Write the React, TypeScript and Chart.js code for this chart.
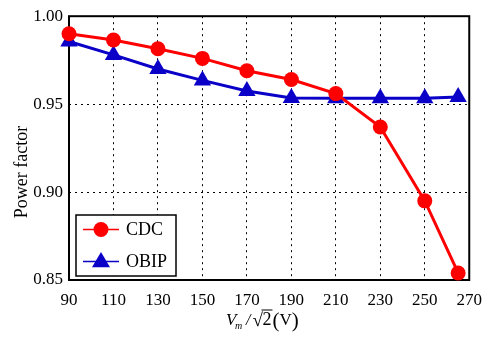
import React, { useEffect, useRef } from "react";
import { Chart, registerables } from "chart.js";

Chart.register(...registerables);

const xValues = [90, 110, 130, 150, 170, 190, 210, 230, 250, 265];
const cdcValues = [0.990, 0.9865, 0.9815, 0.976, 0.969, 0.964, 0.956, 0.937, 0.895, 0.854];
const obipValues = [0.9856, 0.978, 0.970, 0.9635, 0.9575, 0.9535, 0.9533, 0.9533, 0.9533, 0.954];
const seriesNames = ["CDC", "OBIP"];
const yTitle = "Power factor";

const SERIF = "'Liberation Serif', 'Times New Roman', serif";
const RED = "#ff0000";
const BLUE = "#0a00c8";

const framePlugin = {
  id: "frame",
  beforeDatasetsDraw(chart: any) {
    const { ctx, chartArea } = chart;
    ctx.save();
    ctx.strokeStyle = "#000";
    ctx.lineWidth = 2;
    ctx.strokeRect(chartArea.left, chartArea.top, chartArea.right - chartArea.left, chartArea.bottom - chartArea.top);
    ctx.restore();
  },
  afterDraw(chart: any) {
    const { ctx } = chart;
    ctx.save();
    // Y title
    ctx.fillStyle = "#000";
    ctx.font = `18px ${SERIF}`;
    ctx.textAlign = "center";
    ctx.textBaseline = "middle";
    ctx.translate(22, 172);
    ctx.rotate(-Math.PI / 2);
    ctx.fillText(yTitle, 0, 0);
    ctx.restore();

    // X title: V_m / √2 (V)
    ctx.save();
    ctx.fillStyle = "#000";
    ctx.textBaseline = "alphabetic";
    ctx.textAlign = "left";
    let x = 226;
    const base = 325;
    ctx.font = `italic 17px ${SERIF}`;
    ctx.fillText("V", x, base);
    x += ctx.measureText("V").width - 1.5;
    ctx.font = `italic 10px ${SERIF}`;
    ctx.fillText("m", x, base + 4);
    x += ctx.measureText("m").width + 4;
    ctx.font = `italic 16px ${SERIF}`;
    ctx.fillText("/", x, base);
    x += ctx.measureText("/").width + 2;
    ctx.font = `19px ${SERIF}`;
    ctx.fillText("\u221A", x, base + 1);
    x += ctx.measureText("\u221A").width - 0.5;
    ctx.font = `18px ${SERIF}`;
    const wTwo = ctx.measureText("2").width;
    ctx.fillText("2", x, base);
    ctx.strokeStyle = "#000";
    ctx.lineWidth = 1;
    ctx.beginPath();
    ctx.moveTo(x - 1, base - 15);
    ctx.lineTo(x + wTwo + 1, base - 15);
    ctx.stroke();
    x += wTwo + 1;
    ctx.font = `21px ${SERIF}`;
    ctx.fillText("(", x, base + 2);
    x += ctx.measureText("(").width;
    ctx.font = `17px ${SERIF}`;
    ctx.fillText("V", x, base);
    x += ctx.measureText("V").width;
    ctx.font = `21px ${SERIF}`;
    ctx.fillText(")", x, base + 2);
    ctx.restore();

    // Legend
    ctx.save();
    const bx = 76, by = 215, bw = 100, bh = 61;
    ctx.fillStyle = "#fff";
    ctx.fillRect(bx, by, bw, bh);
    ctx.strokeStyle = "#000";
    ctx.lineWidth = 1.5;
    ctx.strokeRect(bx, by, bw, bh);
    const rows = [
      { y: 229.5, color: RED, style: "circle", r: 7.5 },
      { y: 261.5, color: BLUE, style: "triangle", r: 9.5 },
    ];
    rows.forEach((row, i) => {
      ctx.strokeStyle = row.color;
      ctx.lineWidth = 1.5;
      ctx.beginPath();
      ctx.moveTo(83, row.y);
      ctx.lineTo(119, row.y);
      ctx.stroke();
      ctx.fillStyle = row.color;
      ctx.beginPath();
      if (row.style === "circle") {
        ctx.arc(101, row.y, row.r, 0, Math.PI * 2);
      } else {
        const r = row.r;
        ctx.moveTo(101, row.y - r);
        ctx.lineTo(101 + r * 0.95, row.y + r * 0.6);
        ctx.lineTo(101 - r * 0.95, row.y + r * 0.6);
        ctx.closePath();
      }
      ctx.fill();
      ctx.fillStyle = "#000";
      ctx.font = `18px ${SERIF}`;
      ctx.textAlign = "left";
      ctx.textBaseline = "middle";
      ctx.fillText(seriesNames[i], 126, row.y + 1);
    });
    ctx.restore();
  },
};

export default function App() {
  const ref = useRef<HTMLCanvasElement | null>(null);
  useEffect(() => {
    if (!ref.current) return;
    const chart = new Chart(ref.current, {
      type: "line",
      data: {
        datasets: [
          {
            label: seriesNames[0],
            data: xValues.map((x, i) => ({ x, y: cdcValues[i] })),
            borderColor: RED,
            backgroundColor: RED,
            borderWidth: 3,
            pointStyle: "circle",
            pointRadius: 7.5,
            pointBorderWidth: 0,
            clip: false,
          },
          {
            label: seriesNames[1],
            data: xValues.map((x, i) => ({ x, y: obipValues[i] })),
            borderColor: BLUE,
            backgroundColor: BLUE,
            borderWidth: 3,
            pointStyle: "triangle",
            pointRadius: 10,
            pointBorderWidth: 0,
            clip: false,
          },
        ],
      },
      options: {
        animation: false,
        responsive: false,
        maintainAspectRatio: false,
        layout: { padding: { top: 10, right: 22, left: 0, bottom: 0 } },
        plugins: { legend: { display: false }, tooltip: { enabled: false } },
        scales: {
          x: {
            type: "linear",
            min: 90,
            max: 270,
            ticks: {
              stepSize: 20,
              color: "#000",
              font: { family: SERIF, size: 17 },
              padding: 10,
              maxRotation: 0,
            },
            grid: { color: "#000", lineWidth: 1, drawTicks: false },
            border: { display: false, dash: [2, 4] },
            afterFit(scale: any) {
              scale.height = 57;
            },
          },
          y: {
            min: 0.85,
            max: 1.0,
            ticks: {
              stepSize: 0.05,
              color: "#000",
              font: { family: SERIF, size: 17 },
              padding: 6,
              callback: (v: any) => Number(v).toFixed(2),
            },
            grid: { color: "#000", lineWidth: 1, drawTicks: false },
            border: { display: false, dash: [2, 4] },
            afterFit(scale: any) {
              scale.width = 69;
            },
          },
        },
      },
      plugins: [framePlugin],
    } as any);
    return () => chart.destroy();
  }, []);
  return (
    <div style={{ position: "fixed", left: 0, top: 0, width: 492, height: 337, background: "#fff" }}>
      <canvas ref={ref} width={492} height={337} style={{ width: 492, height: 337 }} />
    </div>
  );
}
